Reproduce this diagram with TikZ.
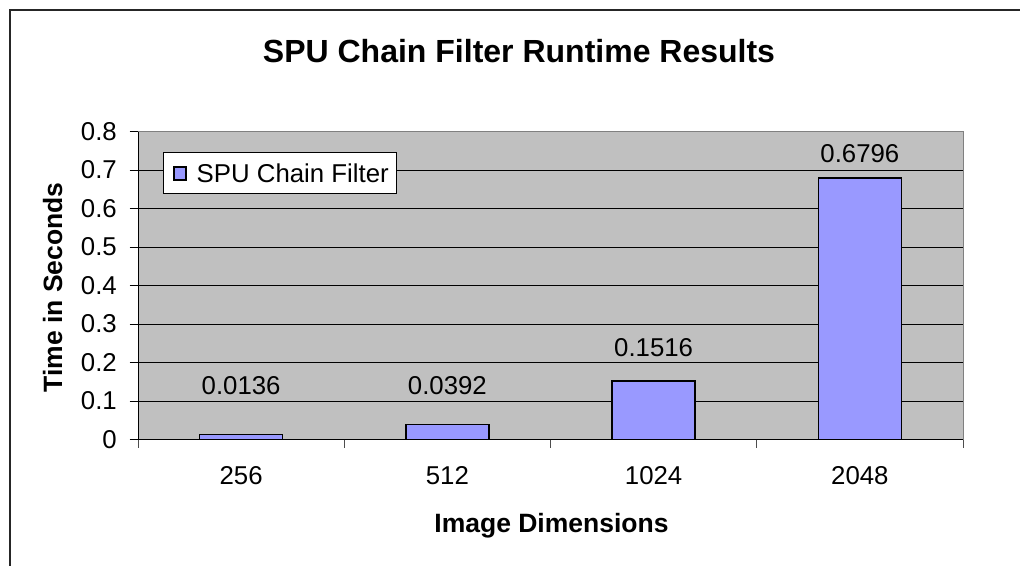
\documentclass[tikz,border=0pt]{standalone}
\usepackage{fontspec}
\setmainfont{Liberation Sans}
\definecolor{barblue}{HTML}{9999FF}
\definecolor{plotgray}{HTML}{C0C0C0}
\definecolor{framegray}{HTML}{808080}
\begin{document}
\begin{tikzpicture}[x=1pt,y=-1pt,
  lbl/.style={font=\fontsize{25.8}{30}\selectfont, inner sep=0pt},
  axtitle/.style={font=\fontsize{26.5}{30}\selectfont\bfseries, inner sep=0pt},
  bartop/.style={fill=barblue, draw=black, line width=1.3pt},
  gridline/.style={draw=black, line width=0.9pt},
]
\useasboundingbox (0,0) rectangle (1020,565);
\fill[white] (0,0) rectangle (1020,565);

% chart area frame (runs off the page to the right and bottom)
\draw[line width=1.6pt, color=black!85] (10,566) -- (10,10) -- (1021,10);

% plot area
\fill[plotgray] (138,131.5) rectangle (963,439.5);
\foreach \k in {1,...,7}
  \draw[gridline] (138,{439.5-38.5*\k}) -- (963,{439.5-38.5*\k});
\draw[framegray, line width=1pt] (138,131.5) -- (963,131.5) -- (963,439.5);

% axes
\draw[black, line width=1pt] (138,131.5) -- (138,439.5) -- (963,439.5);
\foreach \k/\t in {0/0,1/0.1,2/0.2,3/0.3,4/0.4,5/0.5,6/0.6,7/0.7,8/0.8}{
  \draw[black, line width=1pt] (129.5,{439.5-38.5*\k}) -- (138,{439.5-38.5*\k});
  \node[lbl, anchor=east] (ytick\k) at (117,{439.5-38.5*\k}) {\t};
}
\foreach \i in {0,...,4}
  \draw[framegray!60!black, line width=1pt] ({138+206.25*\i},439.5) -- ++(0,8);

% bars, value labels and category labels
\foreach \i/\v/\c/\ly in {0/0.0136/256/386, 1/0.0392/512/386, 2/0.1516/1024/348, 3/0.6796/2048/154}{
  \draw[bartop] ({138+206.25*(\i+0.5)-41.5},439.5) rectangle ({138+206.25*(\i+0.5)+41.5},{439.5-385*\v});
  \node[lbl] (val\i) at ({138+206.25*(\i+0.5)},\ly) {\v};
  \node[lbl] (cat\i) at ({138+206.25*(\i+0.5)},476) {\c};
}

% legend
\node[draw=black, fill=white, line width=1pt, minimum width=233, minimum height=41,
      anchor=north west, inner sep=0pt] (legend) at (163,152) {};
\draw[fill=barblue, draw=black, line width=1.2pt] (174,167) rectangle (186,180);
\node[lbl, anchor=west] (legendtext) at (196.5,173) {SPU Chain Filter};

% titles
\node[font=\fontsize{32}{36}\selectfont\bfseries, inner sep=0pt, anchor=base] (title) at (519,62) {SPU Chain Filter Runtime Results};
\node[axtitle, anchor=base] (xtitle) at (551.5,532) {Image Dimensions};
\node[axtitle, anchor=base, rotate=90] (ytitle) at (62,287.5) {Time in Seconds};
\end{tikzpicture}
\end{document}
